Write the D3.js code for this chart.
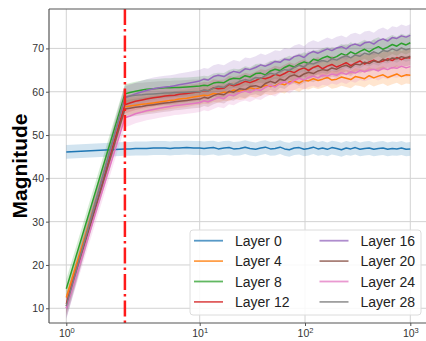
<!DOCTYPE html>
<html><head><meta charset="utf-8">
<script src="https://cdn.jsdelivr.net/npm/d3@7"></script>
<style>html,body{margin:0;padding:0;background:#fff;} svg{display:block;}</style>
</head><body>
<svg id="chart" width="426" height="341"></svg>
<script>
// Training steps at which each layer's magnitude was recorded
const steps = [
  1, 2.75, 3, 3.3, 3.7, 4, 4.5, 5, 5.5, 6,
  6.5, 7, 8, 9, 10, 11, 12, 13.5, 15, 17,
  19, 21, 24, 27, 30, 34, 38, 42, 47, 52,
  58, 64, 71, 79, 88, 98, 108, 120, 133, 147,
  163, 180, 200, 222, 246, 272, 300, 333, 368, 407,
  450, 498, 551, 609, 674, 745, 824, 911, 1000
];

const layerNames = ["Layer 0", "Layer 4", "Layer 8", "Layer 12", "Layer 16", "Layer 20", "Layer 24", "Layer 28"];

// Mean magnitude per layer
const layer0 = [
  46.1, 46.8, 46.8, 46.9, 46.9, 46.9, 47.0, 47.0, 47.0, 46.9,
  47.0, 47.0, 47.1, 47.0, 47.0, 46.9, 47.0, 47.1, 46.8, 47.0,
  47.1, 46.8, 46.9, 47.2, 46.9, 46.7, 47.0, 47.2, 46.8, 46.9,
  47.2, 46.8, 46.6, 47.0, 47.1, 46.7, 46.9, 47.2, 46.8, 47.0,
  46.7, 47.1, 46.9, 46.6, 47.0, 46.8, 47.1, 46.7, 46.9, 47.0,
  46.7, 46.9, 47.0, 46.7, 46.9, 46.8, 47.0, 46.7, 46.8
];
const layer4 = [
  12.5, 56.5, 56.7, 56.9, 57.1, 57.2, 57.4, 57.6, 57.8, 58.0,
  58.1, 58.3, 58.5, 58.8, 59.0, 59.2, 59.1, 59.6, 59.5, 59.9,
  59.8, 60.4, 60.1, 60.3, 60.9, 60.6, 61.0, 61.5, 61.2, 61.4,
  61.9, 61.6, 62.3, 62.4, 62.0, 62.7, 62.5, 63.0, 62.6, 62.9,
  63.3, 62.7, 62.9, 63.4, 63.1, 62.8, 63.5, 63.3, 63.0, 63.7,
  63.2, 63.6, 63.9, 63.3, 63.7, 64.1, 63.5, 63.9, 63.8
];
const layer8 = [
  14.5, 59.5, 59.8, 60.1, 60.4, 60.6, 60.7, 60.8, 60.9, 60.9,
  61.0, 61.0, 61.1, 61.2, 61.3, 61.5, 61.4, 62.0, 62.2, 62.1,
  62.8, 63.1, 63.0, 63.7, 63.4, 64.2, 64.3, 63.9, 64.8, 65.2,
  64.9, 65.6, 66.1, 65.7, 66.4, 66.9, 66.5, 67.5, 67.2, 67.8,
  68.2, 67.7, 68.1, 68.8, 68.4, 69.2, 68.7, 69.3, 69.8, 69.2,
  69.9, 70.4, 69.8, 70.3, 70.9, 70.5, 71.2, 70.8, 71.3
];
const layer12 = [
  11.0, 57.0, 57.4, 57.8, 58.1, 58.3, 58.6, 58.8, 59.0, 59.1,
  59.2, 59.4, 59.6, 59.8, 60.0, 60.3, 60.2, 60.9, 60.7, 60.8,
  61.7, 61.4, 61.8, 62.4, 62.1, 62.6, 63.2, 63.0, 63.4, 64.0,
  63.7, 64.2, 64.8, 64.4, 65.1, 65.5, 64.9, 65.6, 66.0, 65.3,
  65.9, 66.3, 65.7, 66.2, 66.7, 66.0, 66.6, 67.1, 66.4, 66.9,
  67.3, 66.8, 67.1, 67.6, 67.2, 67.9, 67.4, 67.9, 67.8
];
const layer16 = [
  10.0, 58.6, 59.0, 59.5, 60.0, 60.3, 60.7, 60.9, 61.1, 61.2,
  61.4, 61.6, 61.9, 62.2, 62.5, 62.9, 62.7, 63.5, 63.8, 63.5,
  64.2, 64.7, 64.4, 65.3, 65.1, 65.6, 66.2, 65.9, 66.4, 67.0,
  66.8, 67.5, 67.3, 68.1, 68.4, 67.9, 68.8, 69.3, 68.9, 69.4,
  69.9, 69.5, 70.1, 70.4, 69.9, 70.7, 71.0, 70.6, 71.3, 71.5,
  71.0, 71.8, 72.2, 71.7, 72.5, 72.3, 72.9, 72.6, 73.0
];
const layer20 = [
  10.5, 56.0, 56.2, 56.4, 56.6, 56.8, 57.0, 57.2, 57.4, 57.5,
  57.7, 57.8, 58.0, 58.2, 58.3, 58.7, 58.5, 59.1, 59.5, 59.3,
  60.1, 59.9, 60.7, 60.5, 61.2, 61.4, 61.0, 61.9, 62.4, 62.0,
  62.9, 62.6, 63.5, 63.9, 63.4, 64.1, 64.5, 64.2, 64.8, 65.1,
  64.9, 65.5, 65.2, 65.8, 66.1, 65.6, 66.4, 66.2, 66.8, 66.5,
  67.1, 66.8, 67.5, 67.2, 67.8, 67.6, 68.1, 67.8, 68.2
];
const layer24 = [
  10.0, 54.0, 54.4, 54.9, 55.3, 55.6, 55.9, 56.2, 56.4, 56.6,
  56.8, 56.9, 57.1, 57.3, 57.5, 57.9, 57.7, 58.2, 58.7, 58.4,
  59.3, 59.1, 59.8, 60.2, 59.8, 60.5, 60.3, 61.0, 61.5, 61.1,
  61.9, 62.3, 61.8, 62.6, 63.1, 62.7, 63.3, 63.6, 63.2, 63.8,
  63.6, 64.1, 63.8, 64.4, 64.0, 64.6, 64.3, 64.9, 64.6, 65.0,
  65.2, 64.8, 65.4, 65.1, 65.6, 65.4, 65.9, 65.5, 65.8
];
const layer28 = [
  10.5, 58.8, 59.0, 59.2, 59.3, 59.4, 59.5, 59.6, 59.7, 59.7,
  59.8, 59.8, 59.9, 60.0, 60.0, 60.4, 60.2, 60.8, 61.2, 61.0,
  61.9, 61.6, 62.4, 62.8, 62.5, 63.3, 63.1, 63.7, 64.3, 64.0,
  64.7, 65.1, 64.9, 65.6, 66.1, 65.7, 66.6, 66.4, 66.9, 67.2,
  66.9, 67.6, 67.3, 67.9, 68.3, 67.8, 68.5, 68.2, 68.9, 68.6,
  69.2, 68.8, 69.5, 69.3, 69.9, 69.5, 70.1, 69.7, 70.0
];

// Half-width of the spread band around each layer's mean
const bandHalf = [1.6, 2.0, 2.2, 2.0, 2.6, 2.0, 2.2, 2.8];

const colors = ["#1f77b4", "#ff7f0e", "#2ca02c", "#d62728", "#9467bd", "#8c564b", "#e377c2", "#7f7f7f"];
const yTicks = [10, 20, 30, 40, 50, 60, 70];
const xTicks = [1, 10, 100, 1000];
const markerStep = 2.75;

const layers = [layer0, layer4, layer8, layer12, layer16, layer20, layer24, layer28];

const svg = d3.select("#chart");
const pLeft = 49, pRight = 427, pTop = 9, pBottom = 323;

const x = d3.scaleLog().domain([1, 10, 1000]).range([66.3, 199.7, 410.3]);
const y = d3.scaleLinear().domain([6.6, 79.1]).range([pBottom, pTop]);

svg.append("defs").append("clipPath").attr("id", "plotClip")
  .append("rect").attr("x", pLeft).attr("y", pTop).attr("width", pRight - pLeft).attr("height", pBottom - pTop);

// Grid
const grid = svg.append("g").attr("stroke", "#d2d2d2").attr("stroke-width", 1);
yTicks.forEach(t => grid.append("line").attr("x1", pLeft).attr("x2", pRight).attr("y1", y(t)).attr("y2", y(t)));
xTicks.forEach(t => grid.append("line").attr("x1", x(t)).attr("x2", x(t)).attr("y1", pTop).attr("y2", pBottom));

const plot = svg.append("g").attr("clip-path", "url(#plotClip)");

const area = d3.area().x((d, i) => x(steps[i])).y0(d => y(d.lo)).y1(d => y(d.hi));
const line = d3.line().x((d, i) => x(steps[i])).y(d => y(d));

layers.forEach((vals, k) => {
  const band = vals.map(v => ({lo: v - bandHalf[k], hi: v + bandHalf[k]}));
  plot.append("path").datum(band).attr("d", area)
    .attr("fill", colors[k]).attr("fill-opacity", 0.2).attr("stroke", "none");
});
layers.forEach((vals, k) => {
  plot.append("path").datum(vals).attr("d", line)
    .attr("fill", "none").attr("stroke", colors[k]).attr("stroke-width", 1.5)
    .attr("stroke-linejoin", "round");
});

// Vertical marker
plot.append("line")
  .attr("x1", x(markerStep)).attr("x2", x(markerStep))
  .attr("y1", pTop).attr("y2", pBottom)
  .attr("stroke", "#ff1a1a").attr("stroke-width", 2.5)
  .attr("stroke-dasharray", "16,4,2.5,4");

// Axes
const yAxis = svg.append("g").attr("transform", `translate(${pLeft},0)`)
  .call(d3.axisLeft(y).tickValues(yTicks).tickSize(3).tickPadding(2));
yAxis.select(".domain").remove();
yAxis.selectAll("line").attr("stroke", "#555");
yAxis.selectAll("text").attr("font-family", "Liberation Sans, Arial, sans-serif")
  .attr("font-size", 10.5).attr("fill", "#333");

const xAxis = svg.append("g").attr("transform", `translate(0,${pBottom})`)
  .call(d3.axisBottom(x).tickValues(xTicks).tickSize(3).tickPadding(4).tickFormat(() => ""));
xAxis.select(".domain").remove();
xAxis.selectAll("line").attr("stroke", "#555");
xAxis.selectAll(".tick").each(function(d) {
  const t = d3.select(this).select("text")
    .attr("font-family", "Liberation Sans, Arial, sans-serif")
    .attr("font-size", 10.5).attr("fill", "#333")
    .attr("text-anchor", "middle").attr("dy", "0.71em");
  t.text(null);
  t.append("tspan").text("10");
  t.append("tspan").attr("font-size", 7.5).attr("dy", "-0.55em").text(String(Math.round(Math.log10(d))));
});

// Spines
const spine = svg.append("g").attr("stroke", "#555").attr("stroke-width", 1.2).attr("fill", "none");
spine.append("line").attr("x1", pLeft).attr("x2", pLeft).attr("y1", pTop).attr("y2", pBottom);
spine.append("line").attr("x1", pLeft).attr("x2", pRight).attr("y1", pBottom).attr("y2", pBottom);
spine.append("line").attr("x1", pLeft).attr("x2", pRight).attr("y1", pTop).attr("y2", pTop);

// Y label
svg.append("text")
  .attr("transform", `translate(27,${(pTop + pBottom) / 2}) rotate(-90)`)
  .attr("text-anchor", "middle")
  .attr("font-family", "Liberation Sans, Arial, sans-serif")
  .attr("font-weight", "bold").attr("font-size", 21).attr("fill", "#000")
  .text("Magnitude");

// Legend
const lg = svg.append("g");
lg.append("rect").attr("x", 190).attr("y", 230).attr("width", 231).attr("height", 85)
  .attr("rx", 3).attr("fill", "#fff").attr("fill-opacity", 0.85)
  .attr("stroke", "#dcdcdc").attr("stroke-width", 1);
layerNames.forEach((name, k) => {
  const col = Math.floor(k / 4), row = k % 4;
  const lx = col === 0 ? 194 : 319.5;
  const ly = 240.7 + row * 20.4;
  lg.append("line").attr("x1", lx).attr("x2", lx + 29).attr("y1", ly).attr("y2", ly)
    .attr("stroke", colors[k]).attr("stroke-width", 1.8).attr("stroke-opacity", 0.75);
  lg.append("text").attr("x", lx + 41).attr("y", ly + 5)
    .attr("font-family", "Liberation Sans, Arial, sans-serif")
    .attr("font-size", 14).attr("fill", "#222").text(name);
});
</script>
</body></html>
